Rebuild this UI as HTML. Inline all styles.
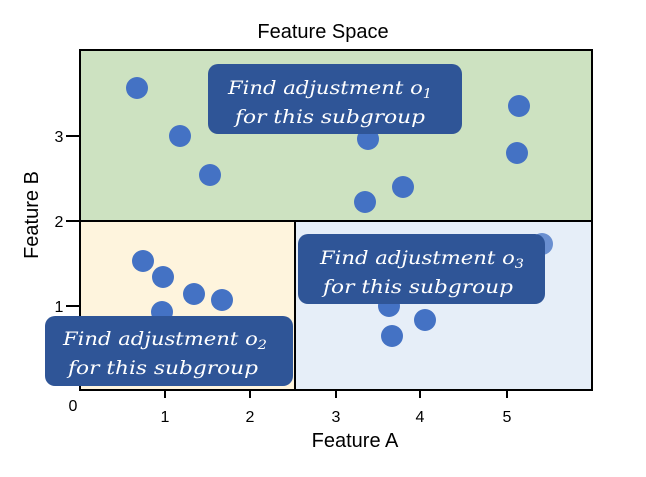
<!DOCTYPE html>
<html><head><style>body{margin:0;background:#fff}</style></head><body>
<svg width="646" height="472" xmlns="http://www.w3.org/2000/svg" font-family="Liberation Sans, sans-serif">
<text x="323" y="38" font-size="20" text-anchor="middle">Feature Space</text>
<rect x="80" y="50" width="512" height="170" fill="#cde2c1"/>
<rect x="80" y="221" width="215" height="169" fill="#fef4dd"/>
<rect x="295" y="221" width="297" height="169" fill="#e6eef8"/>
<g fill="#4472c4">
<circle cx="137" cy="88" r="11"/><circle cx="180" cy="136" r="11"/><circle cx="210" cy="175" r="11"/>
<circle cx="368" cy="139" r="11"/><circle cx="365" cy="202" r="11"/><circle cx="403" cy="187" r="11"/>
<circle cx="519" cy="106" r="11"/><circle cx="517" cy="153" r="11"/>
<circle cx="143" cy="261" r="11"/><circle cx="163" cy="277" r="11"/><circle cx="194" cy="294" r="11"/>
<circle cx="222" cy="300" r="11"/><circle cx="162" cy="312" r="11"/>
<circle cx="542" cy="244" r="11" fill="#6a8fd0"/><circle cx="389" cy="306" r="11"/><circle cx="392" cy="336" r="11"/><circle cx="425" cy="320" r="11"/>
</g>
<g stroke="#000" stroke-width="2" fill="none">
<rect x="80" y="50" width="512" height="340"/>
<line x1="80" y1="221" x2="592" y2="221"/>
<line x1="295" y1="221" x2="295" y2="390"/>
<line x1="165" y1="390" x2="165" y2="398"/><line x1="250" y1="390" x2="250" y2="398"/>
<line x1="336" y1="390" x2="336" y2="398"/><line x1="420" y1="390" x2="420" y2="398"/><line x1="507" y1="390" x2="507" y2="398"/>
<line x1="66" y1="136" x2="80" y2="136"/><line x1="66" y1="221" x2="80" y2="221"/><line x1="66" y1="306" x2="80" y2="306"/>
</g>
<g font-size="16" text-anchor="middle">
<text x="73" y="411">0</text><text x="165" y="422">1</text><text x="250" y="422">2</text><text x="336" y="422">3</text><text x="420" y="422">4</text><text x="507" y="422">5</text>
<text x="59" y="142">3</text><text x="59" y="227">2</text><text x="59" y="312">1</text>
</g>
<text x="355" y="447" font-size="20" text-anchor="middle">Feature A</text>
<text transform="translate(38,215) rotate(-90)" font-size="20" text-anchor="middle">Feature B</text>
<g fill="#2f5597">
<rect x="208" y="64" width="254" height="70" rx="10"/>
<rect x="298" y="234" width="247" height="70" rx="10"/>
<rect x="45" y="316" width="248" height="70" rx="10"/>
</g>
<g fill="#fff" font-family="DejaVu Serif, Liberation Serif, serif" font-style="italic" font-size="19" text-anchor="middle">
<text x="330" y="94" textLength="204" lengthAdjust="spacingAndGlyphs">Find adjustment o<tspan font-size="13" dy="4">1</tspan></text>
<text x="330" y="123" textLength="190" lengthAdjust="spacingAndGlyphs">for this subgroup</text>
<text x="422" y="264" textLength="204" lengthAdjust="spacingAndGlyphs">Find adjustment o<tspan font-size="13" dy="4">3</tspan></text>
<text x="418" y="293" textLength="190" lengthAdjust="spacingAndGlyphs">for this subgroup</text>
<text x="165" y="345" textLength="204" lengthAdjust="spacingAndGlyphs">Find adjustment o<tspan font-size="13" dy="4">2</tspan></text>
<text x="163" y="374" textLength="190" lengthAdjust="spacingAndGlyphs">for this subgroup</text>
</g>
</svg>
</body></html>
